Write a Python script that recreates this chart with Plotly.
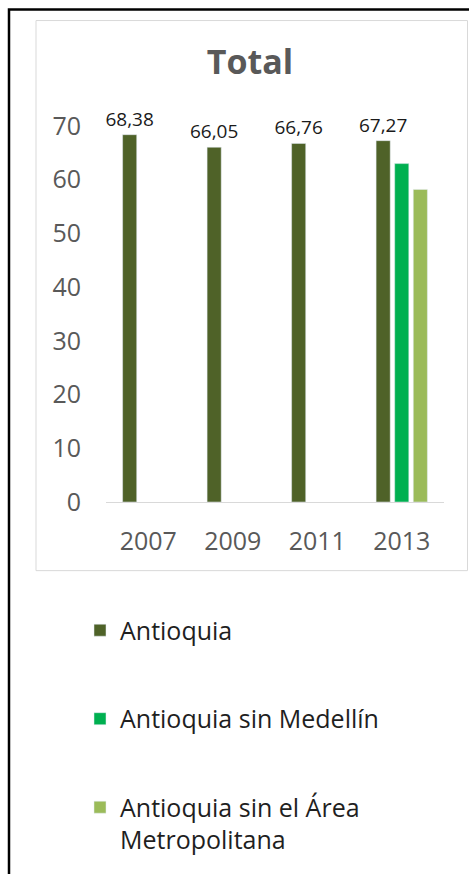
import plotly.graph_objects as go

years = ["2007", "2009", "2011", "2013"]
antioquia = [68.38, 66.05, 66.76, 67.27]
sin_medellin = [None, None, None, 63.0]
sin_area = [None, None, None, 58.2]
y_ticks = [0, 10, 20, 30, 40, 50, 60, 70]

names = ["Antioquia", "Antioquia sin Medellín", "Antioquia sin el Área<br>Metropolitana"]
colors = ["#4F6228", "#00B050", "#9BBB59"]

W, H = 469, 874
L, R, T, B = 106, 444, 126, 504  # plot area in pixels


def px_x(p):
    return (p - L) / (R - L)


def px_y(p):
    return (B - p) / (B - T)


fig = go.Figure()
fig.add_trace(go.Bar(
    x=years, y=antioquia, name=names[0], marker_color=colors[0],
    legendgroup="a",
    texttemplate="%{y:.2f}",
    textposition="outside",
    textfont=dict(family="Open Sans", size=19, color="#1a1a1a"),
    constraintext="none", cliponaxis=False,
))
fig.add_trace(go.Bar(x=years, y=sin_medellin, name=names[1], marker_color=colors[1], legendgroup="b"))
fig.add_trace(go.Bar(x=years, y=sin_area, name=names[2], marker_color=colors[2], legendgroup="c"))

fig.update_layout(
    width=W, height=H,
    margin=dict(l=L, r=W - R, t=T, b=H - B),
    paper_bgcolor="white", plot_bgcolor="white",
    separators=",.",
    barmode="group", bargap=0.34, bargroupgap=0.24,
    title=dict(text="<b>Total</b>", x=250 / W, xref="container", xanchor="center",
               y=1 - 62 / H, yref="container", yanchor="middle",
               font=dict(family="Open Sans", size=34, color="#595959")),
    font=dict(family="Open Sans", color="#595959"),
    showlegend=True,
    legend=dict(x=px_x(80), xanchor="left", y=px_y(610), yanchor="top",
                orientation="v", traceorder="grouped", tracegroupgap=53, valign="top",
                font=dict(family="Open Sans", size=25, color="#1f1f1f"),
                bgcolor="rgba(0,0,0,0)"),
    xaxis=dict(showgrid=False, showline=True, linecolor="#D9D9D9", linewidth=1,
               ticks="", tickfont=dict(size=25, color="#595959"), ticklabelstandoff=17),
    yaxis=dict(range=[0, 70], tickvals=y_ticks, showgrid=False, showline=False, zeroline=False,
               ticks="", tickfont=dict(size=25, color="#595959"), ticklabelstandoff=24),
    shapes=[
        dict(type="rect", xref="paper", yref="paper",
             x0=px_x(36), x1=px_x(467.5), y0=px_y(573), y1=px_y(20),
             line=dict(color="#D9D9D9", width=1), fillcolor="rgba(0,0,0,0)", layer="below"),
        dict(type="path", xref="paper", yref="paper",
             path=f"M {px_x(9)} {px_y(880)} L {px_x(9)} {px_y(9)} L {px_x(475)} {px_y(9)}",
             line=dict(color="black", width=2.5)),
    ],
)

fig.write_html("out.html", config={"displayModeBar": False},
               post_script="document.body.style.margin='0';document.body.style.overflow='hidden';")
